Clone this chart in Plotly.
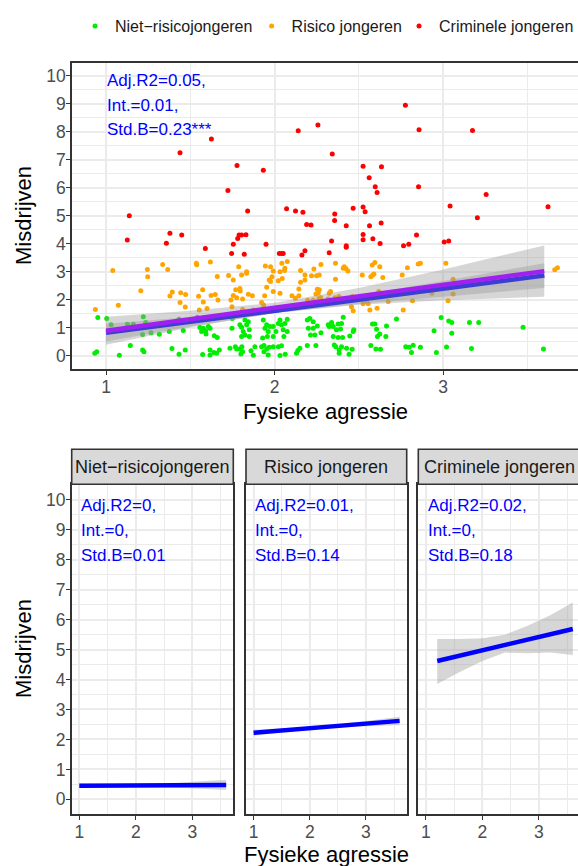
import plotly.graph_objects as go

W, H = 578, 866

# ---------------- data ----------------
categories = ["Niet\u2212risicojongeren", "Risico jongeren", "Criminele jongeren"]
colors = ["#00EE00", "#FFA500", "#FF0000"]

green_pts = [
    (0.933, 0.08), (0.945, 0.14), (0.951, 1.36), (1.004, 1.33), (1.030, 1.10), (1.079, 0.01),
    (1.144, 0.36), (1.126, 1.12), (1.162, 1.12), (1.221, 1.39), (1.235, 1.18), (1.217, 0.20),
    (1.225, 0.14), (1.217, 0.75), (1.267, 0.82), (1.316, 0.76), (1.375, 0.86), (1.391, 0.25),
    (1.433, 0.05), (1.433, 1.30), (1.458, 0.90), (1.470, 0.20), (1.542, 1.37), (1.573, 0.04),
    (1.557, 1.00), (1.577, 0.98), (1.567, 0.86), (1.591, 0.89), (1.593, 0.77), (1.607, 1.04),
    (1.617, 0.98), (1.617, 1.33), (1.642, 0.71), (1.660, 0.65), (1.617, 0.20), (1.640, 0.11),
    (1.656, 0.08), (1.672, 0.20), (1.617, 0.02), (1.735, 0.26), (1.767, 0.32), (1.775, 0.24),
    (1.806, 0.32), (1.810, 0.14), (1.800, 0.06), (1.794, 0.24), (1.747, 0.98), (1.794, 1.10),
    (1.804, 1.01), (1.814, 0.86), (1.804, 0.68), (1.824, 0.74), (1.850, 0.68), (1.850, 0.92),
    (1.834, 1.10), (1.844, 1.21), (1.749, 1.33), (1.824, 1.27), (1.860, 0.17), (1.874, 0.01),
    (1.883, 0.32), (1.933, 1.27), (1.953, 1.10), (1.943, 0.98), (1.962, 0.86), (1.972, 1.04),
    (1.929, 0.63), (1.957, 0.68), (1.992, 0.68), (2.008, 0.86), (1.992, 1.04), (2.022, 1.15),
    (2.041, 1.10), (2.032, 1.27), (2.061, 1.15), (2.051, 0.92), (2.075, 0.86), (2.055, 0.68),
    (2.075, 1.30), (1.923, 0.32), (1.937, 0.36), (1.953, 0.24), (1.968, 0.30), (1.992, 0.32),
    (2.022, 0.32), (2.041, 0.35), (1.937, 0.14), (1.962, 0.02), (2.032, 0.00), (2.063, 0.05),
    (2.130, 0.08), (2.138, 0.18), (2.150, 0.26), (2.194, 0.36), (2.194, 1.27), (2.209, 1.33),
    (2.229, 1.21), (2.200, 0.98), (2.229, 0.98), (2.253, 1.06), (2.213, 0.74), (2.239, 0.74),
    (2.245, 0.36), (2.275, 0.82), (2.318, 1.10), (2.338, 1.18), (2.324, 1.04), (2.348, 1.04),
    (2.377, 1.13), (2.397, 1.15), (2.407, 1.37), (2.367, 0.92), (2.391, 0.95), (2.348, 0.68),
    (2.377, 0.65), (2.403, 0.65), (2.446, 0.70), (2.466, 0.86), (2.470, 0.92), (2.354, 0.38),
    (2.363, 0.32), (2.397, 0.32), (2.383, 0.20), (2.383, 0.08), (2.427, 0.26), (2.442, 0.05),
    (2.460, 0.23), (2.581, 1.13), (2.595, 1.13), (2.605, 0.94), (2.624, 0.77), (2.610, 0.68),
    (2.664, 1.06), (2.660, 0.68), (2.571, 0.36), (2.601, 0.24), (2.628, 0.23), (2.723, 1.31),
    (2.778, 0.32), (2.798, 0.30), (2.822, 0.37), (2.812, 0.11), (2.865, 0.30), (2.946, 0.89),
    (2.960, 0.11), (2.988, 1.36), (3.020, 0.31), (3.033, 1.24), (3.051, 1.18), (3.051, 0.80),
    (3.156, 1.18), (3.168, 0.25), (3.211, 1.18), (3.474, 1.01), (3.595, 0.24),
]

orange_pts = [
    (0.937, 1.65), (1.040, 3.04), (1.073, 1.80), (1.206, 2.32), (1.245, 3.08), (1.247, 2.82),
    (1.336, 3.26), (1.366, 3.08), (1.379, 2.13), (1.393, 2.27), (1.443, 2.25), (1.472, 2.18),
    (1.439, 1.90), (1.470, 1.74), (1.536, 3.30), (1.538, 3.25), (1.619, 3.35), (1.660, 2.83),
    (1.573, 2.35), (1.549, 2.12), (1.577, 1.92), (1.553, 1.63), (1.599, 1.68), (1.623, 2.15),
    (1.648, 2.18), (1.664, 1.99), (1.727, 2.86), (1.755, 2.70), (1.787, 3.18), (1.804, 2.88),
    (1.834, 3.00), (1.834, 2.94), (1.769, 2.35), (1.794, 2.40), (1.796, 2.31), (1.755, 2.15),
    (1.741, 1.99), (1.775, 2.07), (1.810, 2.02), (1.844, 2.19), (1.868, 2.14), (1.747, 1.75),
    (1.810, 1.65), (1.874, 1.63), (1.933, 1.69), (1.923, 1.90), (1.935, 1.81), (1.945, 3.20),
    (1.976, 3.18), (1.992, 3.02), (1.984, 2.82), (1.953, 2.44), (1.968, 2.70), (1.976, 2.65),
    (1.941, 2.14), (1.992, 2.29), (2.032, 2.23), (2.043, 3.30), (2.075, 3.36), (2.032, 3.00),
    (2.061, 3.12), (2.059, 3.04), (2.045, 2.76), (2.022, 2.68), (2.103, 2.14), (2.123, 2.05),
    (2.144, 2.14), (2.154, 3.04), (2.154, 2.62), (2.144, 2.38), (2.180, 2.88), (2.180, 2.70),
    (2.196, 1.98), (2.229, 1.99), (2.219, 2.85), (2.233, 3.10), (2.249, 2.85), (2.265, 2.88),
    (2.275, 3.26), (2.361, 3.30), (2.361, 2.73), (2.413, 3.18), (2.423, 3.11), (2.435, 3.02),
    (2.407, 3.12), (2.253, 2.37), (2.265, 2.35), (2.259, 2.25), (2.245, 2.20), (2.273, 2.08),
    (2.263, 2.04), (2.324, 2.23), (2.332, 2.29), (2.318, 2.02), (2.358, 2.07), (2.381, 2.11),
    (2.387, 2.01), (2.462, 2.11), (2.456, 1.75), (2.466, 1.60), (2.520, 2.88), (2.571, 2.82),
    (2.581, 2.87), (2.589, 2.92), (2.579, 3.24), (2.595, 3.33), (2.624, 3.18), (2.642, 2.79),
    (2.525, 1.85), (2.555, 1.85), (2.565, 1.63), (2.545, 1.93), (2.608, 1.69), (2.618, 2.29),
    (2.674, 1.93), (2.757, 2.88), (2.788, 3.14), (2.852, 3.27), (2.865, 3.30), (2.763, 1.63),
    (2.818, 1.96), (2.933, 2.23), (3.016, 3.30), (3.059, 2.73), (3.059, 2.20), (3.029, 1.96),
    (3.662, 3.07), (3.678, 3.14),
]

red_pts = [
    (2.140, 8.04), (2.257, 8.24), (1.625, 7.74), (1.439, 7.25), (1.777, 6.80), (1.933, 6.63),
    (1.723, 5.90), (1.840, 5.17), (2.071, 5.25), (2.124, 5.17), (2.168, 5.12), (1.138, 5.00),
    (2.776, 8.95), (2.857, 8.07), (3.174, 8.05), (2.342, 7.21), (2.525, 6.77), (2.634, 6.75),
    (2.561, 6.36), (2.597, 6.04), (2.854, 6.04), (2.608, 5.83), (3.255, 5.76), (3.041, 5.35),
    (3.622, 5.32), (2.466, 5.27), (2.525, 5.31), (2.537, 5.14), (2.357, 5.06), (3.203, 4.93),
    (2.190, 4.69), (2.216, 4.67), (1.126, 4.13), (1.379, 4.37), (1.449, 4.31), (1.358, 4.02),
    (1.789, 4.31), (1.804, 4.31), (1.781, 4.19), (1.830, 4.32), (1.755, 3.98), (1.589, 3.83),
    (1.745, 3.65), (1.820, 3.62), (1.949, 3.98), (2.028, 3.65), (2.042, 3.65), (2.051, 3.65),
    (2.180, 3.75), (2.162, 3.60), (2.356, 4.83), (2.425, 4.64), (2.563, 4.64), (2.632, 4.74),
    (2.525, 4.33), (2.525, 4.14), (2.583, 4.18), (2.842, 4.31), (2.338, 4.10), (2.425, 3.93),
    (2.425, 3.87), (2.626, 4.01), (2.765, 3.93), (2.796, 3.98), (3.006, 4.06), (3.033, 4.10),
    (2.324, 3.68),
]
series_pts = [green_pts, orange_pts, red_pts]

# overall fits in the top panel
fit_x = [1.0, 3.6]
blue_fit_y = [0.82, 2.86]
purple_fit_y = [0.89, 3.02]
band_x = [1.0, 1.5, 2.0, 2.5, 3.0, 3.6]
blue_lo = [0.505, 1.04, 1.51, 1.84, 2.11, 2.42]
blue_hi = [1.135, 1.38, 1.71, 2.16, 2.67, 3.30]
purple_lo = [0.39, 1.00, 1.53, 1.82, 1.98, 2.10]
purple_hi = [1.39, 1.60, 1.89, 2.42, 3.08, 3.94]

stats_top = ["Adj.R2=0.05,", "Int.=0.01,", "Std.B=0.23***"]

# per-group fits (bottom facets)
facet_stats = [["Adj.R2=0,", "Int.=0,", "Std.B=0.01"],
               ["Adj.R2=0.01,", "Int.=0,", "Std.B=0.14"],
               ["Adj.R2=0.02,", "Int.=0,", "Std.B=0.18"]]
facet_line_x = [[1.0, 3.6], [1.0, 3.6], [1.2, 3.6]]
facet_line_y = [[0.455, 0.48], [2.22, 2.62], [4.62, 5.69]]
facet_band_x = [[1.0, 1.5, 2.0, 2.5, 3.0, 3.6],
                [1.0, 1.5, 2.0, 2.5, 3.0, 3.6],
                [1.2, 1.6, 2.0, 2.4, 2.8, 3.2, 3.6]]
facet_band_lo = [[0.385, 0.41, 0.425, 0.41, 0.375, 0.31],
                 [2.12, 2.24, 2.33, 2.40, 2.45, 2.48],
                 [3.85, 4.25, 4.62, 4.90, 4.88, 4.90, 4.82]]
facet_band_hi = [[0.525, 0.51, 0.505, 0.53, 0.575, 0.65],
                 [2.32, 2.36, 2.42, 2.50, 2.61, 2.76],
                 [5.35, 5.35, 5.38, 5.50, 5.80, 6.15, 6.57]]

x_title = "Fysieke agressie"
y_title = "Misdrijven"

# ---------------- layout helpers (pixel -> paper) ----------------
def PX(px):
    return px / W

def PY(py):
    return 1 - py / H

FONT = "Liberation Sans, Arial, Helvetica, sans-serif"
GRID = "#EBEBEB"
BORDER = "#333333"
BAND = "rgba(153,153,153,0.4)"

legend_ids = ["legend", "legend2", "legend3"]
legend_dot_px = [95.0, 271.6, 419.0]

fig = go.Figure()

# top scatter
for name, col, pts, lid in zip(categories, colors, series_pts, legend_ids):
    fig.add_trace(go.Scatter(
        x=[p[0] for p in pts], y=[p[1] for p in pts], mode="markers", name=name,
        marker=dict(color=col, size=5, line=dict(width=0)), xaxis="x", yaxis="y",
        legend=lid))

# blue fit (band + line), then purple fit (band + line)
for lo, hi, fy, col in [(blue_lo, blue_hi, blue_fit_y, "#0000FF"),
                        (purple_lo, purple_hi, purple_fit_y, "#A020F0")]:
    fig.add_trace(go.Scatter(
        x=band_x + band_x[::-1], y=hi + lo[::-1], fill="toself", fillcolor=BAND,
        mode="lines", line=dict(width=0), hoverinfo="skip", showlegend=False,
        xaxis="x", yaxis="y"))
    fig.add_trace(go.Scatter(
        x=fit_x, y=fy, mode="lines", line=dict(color=col, width=4.5),
        showlegend=False, xaxis="x", yaxis="y"))

# facets
for i in range(3):
    xa, ya = "x%d" % (i + 2), "y%d" % (i + 2)
    bx = facet_band_x[i]
    fig.add_trace(go.Scatter(
        x=bx + bx[::-1], y=facet_band_hi[i] + facet_band_lo[i][::-1], fill="toself",
        fillcolor=BAND, mode="lines", line=dict(width=0), hoverinfo="skip",
        showlegend=False, xaxis=xa, yaxis=ya))
    fig.add_trace(go.Scatter(
        x=facet_line_x[i], y=facet_line_y[i], mode="lines",
        line=dict(color="#0000FF", width=4.5), showlegend=False, xaxis=xa, yaxis=ya))


def axis_style(**kw):
    d = dict(showgrid=True, gridcolor=GRID, gridwidth=1.8, zeroline=False,
             showline=True, linecolor=BORDER, linewidth=1.6,
             ticks="outside", ticklen=4, tickwidth=1.4, tickcolor=BORDER,
             tickfont=dict(size=17.5, color="#4D4D4D", family=FONT),
             ticklabelstandoff=-3,
             tickmode="linear", tick0=0, dtick=1,
             minor=dict(showgrid=True, gridcolor=GRID, gridwidth=0.9,
                        tickmode="linear", tick0=0, dtick=0.5, ticks=""),
             fixedrange=True)
    d.update(kw)
    return d

top_y = [PY(369.3), PY(63)]
fac_y = [PY(814), PY(484.3)]
fac_x = [(71.7, 233.3), (246.0, 406.7), (418.3, 578.0)]
fac_xr = [[0.865, 3.726], [0.865, 3.726], [0.865, 3.692]]

layout = dict(
    width=W, height=H, margin=dict(l=0, r=0, t=0, b=0, autoexpand=False),
    paper_bgcolor="white", plot_bgcolor="white",
    font=dict(family=FONT, color="#1A1A1A"),
    showlegend=True,
    xaxis=axis_style(domain=[PX(72), 1.0], range=[0.798, 3.80], anchor="y", mirror=True),
    yaxis=axis_style(domain=top_y, range=[-0.49, 10.46], anchor="x", mirror=False),
)
for lid, dot in zip(legend_ids, legend_dot_px):
    layout[lid] = dict(orientation="h", x=PX(dot - 20), y=PY(9), xanchor="left", yanchor="top",
                       font=dict(size=16, color="#1A1A1A", family=FONT),
                       bgcolor="rgba(0,0,0,0)", itemclick=False, itemdoubleclick=False)
for i in range(3):
    n = i + 2
    layout["xaxis%d" % n] = axis_style(domain=[PX(fac_x[i][0]), PX(fac_x[i][1])],
                                       range=fac_xr[i], anchor="y%d" % n, mirror=True)
    layout["yaxis%d" % n] = axis_style(domain=fac_y, range=[-0.49, 10.52], anchor="x%d" % n,
                                       mirror=(i < 2), showticklabels=(i == 0),
                                       ticks=("outside" if i == 0 else ""))
fig.update_layout(**layout)

annotations = []
shapes = []
STAT_FONT = dict(size=17, color="#0000FF", family=FONT)

# top stats text
for txt, py in zip(stats_top, [80.5, 105.0, 129.8]):
    annotations.append(dict(text=txt, x=PX(105), y=PY(py), xref="paper", yref="paper",
                            xanchor="left", yanchor="middle", showarrow=False, font=STAT_FONT))

# facet strips + stats
strip_left_text = [79.0, 253.0, 425.5]
for i in range(3):
    x0, x1 = fac_x[i]
    shapes.append(dict(type="rect", xref="paper", yref="paper",
                       x0=PX(x0), x1=PX(x1 if i < 2 else 582), y0=PY(484.3), y1=PY(449.3),
                       fillcolor="#D9D9D9", line=dict(color=BORDER, width=1.6)))
    annotations.append(dict(text=categories[i], x=PX((fac_x[i][0] + (fac_x[i][1] if i < 2 else 579.9)) / 2),
                            y=PY(467.0), xref="paper", yref="paper", xanchor="center",
                            yanchor="middle", showarrow=False,
                            font=dict(size=18, color="#1A1A1A", family=FONT)))
    for txt, py in zip(facet_stats[i], [505.0, 530.5, 555.5]):
        annotations.append(dict(text=txt, x=PX(strip_left_text[i]), y=PY(py), xref="paper",
                                yref="paper", xanchor="left", yanchor="middle",
                                showarrow=False, font=STAT_FONT))

# axis titles
TITLE_FONT = dict(size=22, color="#000000", family=FONT)
annotations.append(dict(text=x_title, x=PX(325), y=PY(411), xref="paper", yref="paper",
                        xanchor="center", yanchor="middle", showarrow=False, font=TITLE_FONT))
annotations.append(dict(text=x_title, x=PX(326), y=PY(854), xref="paper", yref="paper",
                        xanchor="center", yanchor="middle", showarrow=False, font=TITLE_FONT))
annotations.append(dict(text=y_title, x=PX(23), y=PY(216), xref="paper", yref="paper",
                        xanchor="center", yanchor="middle", textangle=-90, showarrow=False,
                        font=TITLE_FONT))
annotations.append(dict(text=y_title, x=PX(23), y=PY(649), xref="paper", yref="paper",
                        xanchor="center", yanchor="middle", textangle=-90, showarrow=False,
                        font=TITLE_FONT))

fig.update_layout(annotations=annotations, shapes=shapes)

fig.write_html("out.html", config=dict(displayModeBar=False),
               post_script="document.body.style.margin='0';document.body.style.overflow='hidden';")
